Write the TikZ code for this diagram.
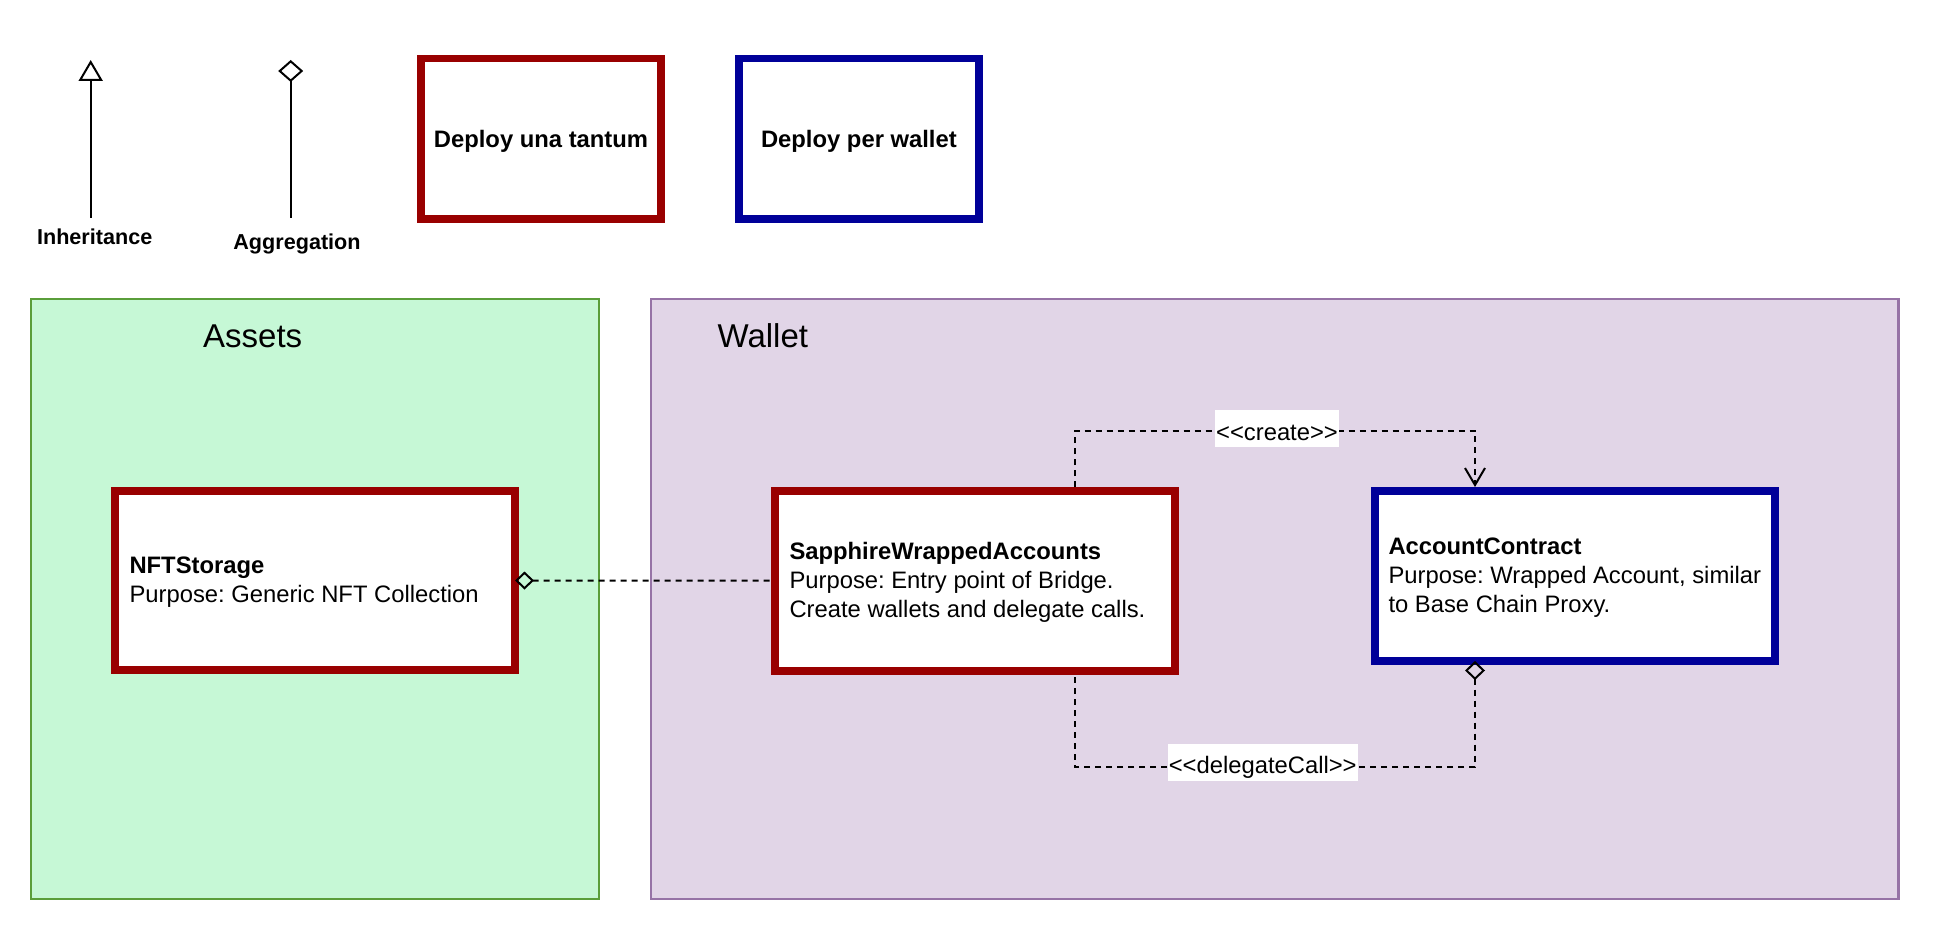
\documentclass[tikz,border=0pt]{standalone}
\usepackage{fontspec}
\setmainfont{Liberation Sans}
\newfontfamily\lsans{Liberation Sans}
\usetikzlibrary{arrows.meta,calc}
\definecolor{dred}{HTML}{990000}
\definecolor{dblue}{HTML}{000099}
\definecolor{gfill}{HTML}{C6F8D6}
\definecolor{gline}{HTML}{5A9E3A}
\definecolor{pfill}{HTML}{E1D5E7}
\definecolor{pline}{HTML}{9673A6}
\begin{document}
\frenchspacing
\begin{tikzpicture}[x=1pt,y=-1pt,
  container/.style={draw, line width=2.2pt, inner sep=0pt, outer sep=0pt},
  title/.style={font=\lsans\fontsize{33}{40}\selectfont, anchor=base, inner sep=0pt},
  legendbox/.style={draw, line width=7.5pt, fill=white, inner sep=0pt, outer sep=0pt,
     minimum width=240.2pt, minimum height=160.5pt, text height=17.4pt, text depth=0pt,
     font=\lsans\bfseries\fontsize{23.8}{29}\selectfont},
  legendtxt/.style={font=\lsans\bfseries\fontsize{21.6}{26}\selectfont, anchor=base, inner sep=0pt},
  cls/.style={draw, line width=8pt, fill=white, inner sep=0pt, outer sep=0pt, minimum width=400pt},
  clstxt/.style={font=\lsans\fontsize{23.8}{29}\selectfont, align=left, anchor=west, inner sep=0pt},
  dep/.style={draw, line width=2pt, dash pattern=on 6pt off 5pt},
  lbl/.style={fill=white, inner xsep=1pt, inner ysep=0pt, minimum height=37pt,
     text height=23.4pt, text depth=0pt, font=\lsans\fontsize{23.8}{29}\selectfont}
]
\useasboundingbox[fill=white] (0,0) rectangle (1933,933);

% containers
\node[container, fill=gfill, draw=gline, minimum width=568pt, minimum height=600pt] (assets) at (315,599) {};
\node[container, fill=pfill, draw=pline, minimum width=1247.8pt, minimum height=600pt] (wallet) at (1274.6,599) {};
\node[title] (assetsT) at (252.7,347.5) {Assets};
\node[title] (walletT) at (762.8,347.5) {Wallet};

% legend
\coordinate (inhB) at (90.7,218);
\coordinate (inhT) at (90.7,60);
\coordinate (aggB) at (290.7,218);
\coordinate (aggT) at (290.7,60);
\draw[line width=2pt, -{Triangle[open,length=21pt,width=24pt]}] (inhB) -- (inhT);
\draw[line width=2pt, -{Diamond[open,length=22pt,width=25pt]}] (aggB) -- (aggT);
\node[legendtxt] (inhL) at (94.7,245) {Inheritance};
\node[legendtxt] (aggL) at (297,249.3) {Aggregation};
\node[legendbox, draw=dred] (once) at (541,138.75) {Deploy una tantum};
\node[legendbox, draw=dblue] (perw) at (858.9,138.75) {Deploy per wallet};

% classes
\node[cls, draw=dred, minimum height=179pt] (nft) at (315,580.5) {};
\node[cls, draw=dred, minimum height=179.5pt] (sap) at (975,580.75) {};
\node[cls, draw=dblue, minimum height=170pt] (acc) at (1575,576) {};
\node[clstxt, yshift=-1.5pt] (nftT) at ($(nft.west)+(14.3,0)$) {\textbf{NFTStorage}\\Purpose: Generic NFT Collection};
\node[clstxt, yshift=-1.5pt] (sapT) at ($(sap.west)+(14.3,0)$) {\textbf{SapphireWrappedAccounts}\\Purpose: Entry point of Bridge.\\Create wallets and delegate calls.};
\node[clstxt, yshift=-1.5pt] (accTx) at ($(acc.west)+(13.3,0)$) {\textbf{AccountContract}\\Purpose: Wrapped Account, similar\\to Base Chain Proxy.};

% connectors
\coordinate (sapN) at ($(sap.north west)!0.75!(sap.north east)$);
\coordinate (accN) at ($(acc.north west)!0.25!(acc.north east)$);
\coordinate (sapS) at ($(sap.south west)!0.75!(sap.south east)$);
\coordinate (accS) at ($(acc.south west)!0.25!(acc.south east)$);
\coordinate (cY) at (0,430.7);
\coordinate (dY) at (0,766.7);

\draw[dep, {Diamond[open,length=19pt,width=18pt]}-, shorten >=4pt] (nft.east) -- (sap.west);
\draw[dep, -{Straight Barb[length=17pt,width=20pt]}, shorten <=4pt, shorten >=4pt]
  (sapN) -- (sapN |- cY) -- (accN |- cY) -- (accN);
\draw[dep, {Diamond[open,length=19pt,width=20pt]}-, shorten >=4pt]
  (accS) -- (accS |- dY) -- (sapS |- dY) -- (sapS);
\node[lbl] (createL) at (1277,428.9) {<<create>>};
\node[lbl] (delegL) at (1262.7,762) {<<delegateCall>>};
\end{tikzpicture}
\end{document}
